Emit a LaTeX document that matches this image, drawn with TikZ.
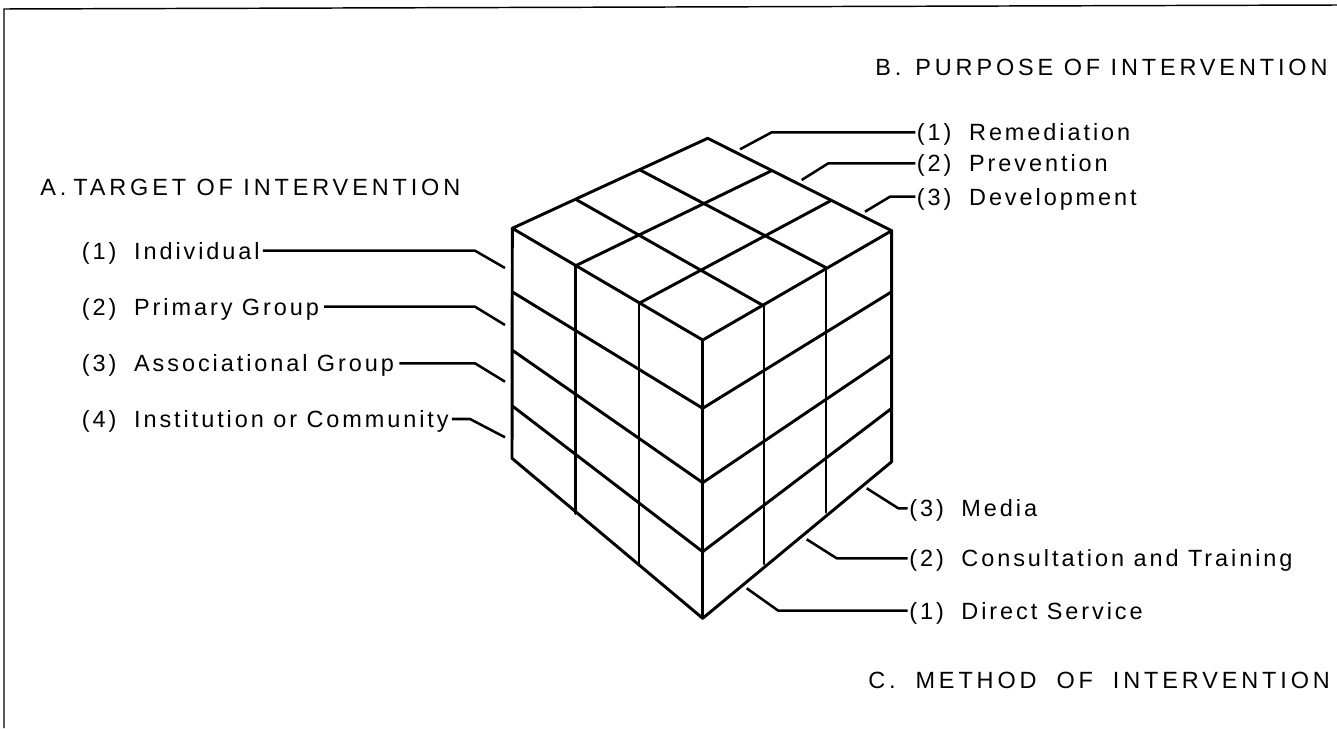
\documentclass[tikz,border=0pt]{standalone}
\usepackage{fontspec}
\setmainfont{Liberation Sans}
\newfontfamily\labfont[LetterSpace=12.5]{Liberation Sans}
\newfontfamily\titfont[LetterSpace=16.5]{Liberation Sans}
\begin{document}
\begin{tikzpicture}[x=0.75pt,y=-0.75pt,
  cubeline/.style={line width=2.2pt,line join=round,line cap=round},
  conn/.style={line width=1.9pt,line join=round},
  frameline/.style={line width=1.1pt},
  lab/.style={anchor=west,inner sep=0pt,font=\labfont\fontsize{17.6pt}{20pt}\selectfont,text height=16.2pt,text depth=3.5pt},
  tit/.style={anchor=west,inner sep=0pt,font=\titfont\fontsize{17.6pt}{20pt}\selectfont,text height=16.2pt,text depth=3.5pt}]
\fill[white] (0,0) rectangle (1337,728);
\useasboundingbox (0,0) rectangle (1337,728);
% frame
\draw[frameline] (4,728) -- (4,9) -- (1337,5);
% ---------- cube ----------
% top face corners
\coordinate (B) at (707.7,138.3);
\coordinate (L) at (512.3,228.3);
\coordinate (R) at (891.7,230.7);
\coordinate (F) at (702.7,340);
% left face edge points (left edge / front edge)
\coordinate (l1) at (512,291.7); \coordinate (f1) at (702.7,408.3);
\coordinate (l2) at (512,350);   \coordinate (f2) at (702.7,482.7);
\coordinate (l3) at (512,405.7); \coordinate (f3) at (702.7,551.7);
\coordinate (l4) at (512,458.3); \coordinate (f4) at (702.7,618.3);
% right face edge points
\coordinate (r1) at (891.7,291.7);
\coordinate (r2) at (891.7,355);
\coordinate (r3) at (891.7,408.3);
\coordinate (r4) at (891.7,461.7);
% outline
\draw[cubeline] (F) -- (L) -- (B) -- (R) -- cycle;
\draw[cubeline] (L) -- (l4) -- (f4) -- (r4) -- (R);
\draw[cubeline] (F) -- (f4);
% top grid
\draw[cubeline] (771,171) -- (575.7,265.7);
\draw[cubeline] (830.7,200.7) -- (639,303.3);
\draw[cubeline] (640,170) -- (826,267.7);
\draw[cubeline] (575.7,199.3) -- (764,306);
% left face rows and columns
\draw[cubeline] (l1) -- (f1);
\draw[cubeline] (l2) -- (f2);
\draw[cubeline] (l3) -- (f3);
\draw[cubeline] (575.7,265.7) -- (575.7,513.3);
\draw[cubeline] (639,303.3) -- (639,565);
% right face rows and columns
\draw[cubeline] (f1) -- (r1);
\draw[cubeline] (f2) -- (r2);
\draw[cubeline] (f3) -- (r3);
\draw[cubeline] (764,306) -- (764,564);
\draw[cubeline] (826,267.7) -- (826,512.3);
% ---------- connector end points ----------
\coordinate (ea1) at (505,268);
\coordinate (ea2) at (505,325);
\coordinate (ea3) at (505,381.7);
\coordinate (ea4) at (505,437.3);
\coordinate (eb1) at (740,149.3);
\coordinate (eb2) at (801.7,180);
\coordinate (eb3) at (865,211.7);
\coordinate (ec1) at (746.7,588.3);
\coordinate (ec2) at (806.7,539.3);
\coordinate (ec3) at (866.7,488.3);
\coordinate (kA) at (475,0);
\coordinate (kA4) at (470,0);
% ---------- titles ----------
\node[tit] (tA) at (40,187) {A.\hspace{0.3em}TARGET OF INTERVENTION};
\node[tit] (tB) at (875,67) {B.\hspace{0.6em}PURPOSE OF INTERVENTION};
\node[tit] (tC) at (868,680) {C.\hspace{0.85em}METHOD\hspace{0.85em}OF\hspace{0.85em}INTERVENTION};
% ---------- A labels ----------
\node[lab] (a1) at (81.7,250.7) {(1)\hspace{0.75em}Individual};
\node[lab] (a2) at (81.7,306.7) {(2)\hspace{0.75em}Primary Group};
\node[lab] (a3) at (81.7,363.3) {(3)\hspace{0.75em}Associational Group};
\node[lab] (a4) at (81.7,419) {(4)\hspace{0.75em}Institution or Community};
\draw[conn] (a1.east) ++(3,0) -- (a1.east -| kA) -- (ea1);
\draw[conn] (a2.east) ++(5,0) -- (a2.east -| kA) -- (ea2);
\draw[conn] (a3.east) ++(5,0) -- (a3.east -| kA) -- (ea3);
\draw[conn] (a4.east) ++(3,0) -- (a4.east -| kA4) -- (ea4);
% ---------- B labels ----------
\node[lab] (b1) at (916.7,132.3) {(1)\hspace{0.75em}Remediation};
\node[lab] (b2) at (916.7,163.3) {(2)\hspace{0.75em}Prevention};
\node[lab] (b3) at (916.7,196.7) {(3)\hspace{0.75em}Development};
\draw[conn] (eb1) -- (771.7,132.3) -- ([xshift=-1pt]b1.west);
\draw[conn] (eb2) -- (828.3,163.3) -- ([xshift=-1pt]b2.west);
\draw[conn] (eb3) -- (890,196.7) -- ([xshift=-1pt]b3.west);
% ---------- C labels ----------
\node[lab] (c3) at (909,508.3) {(3)\hspace{0.75em}Media};
\node[lab] (c2) at (909,558.3) {(2)\hspace{0.75em}Consultation and Training};
\node[lab] (c1) at (909,610.7) {(1)\hspace{0.75em}Direct Service};
\draw[conn] (ec3) -- (898.3,508.3) -- ([xshift=-1pt]c3.west);
\draw[conn] (ec2) -- (836.7,558.3) -- ([xshift=-1pt]c2.west);
\draw[conn] (ec1) -- (778.3,610.7) -- ([xshift=-1pt]c1.west);
\end{tikzpicture}
\end{document}
